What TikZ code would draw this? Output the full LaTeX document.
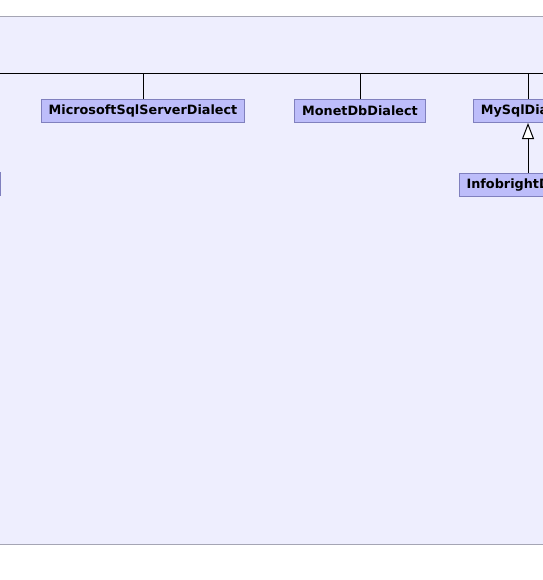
\documentclass[tikz,border=0pt]{standalone}
\usepackage{fontspec}
\newfontfamily\dialectfont{DejaVu Sans}
\usetikzlibrary{positioning,arrows.meta}
\definecolor{panelbg}{RGB}{238,238,254}
\definecolor{panelline}{RGB}{165,165,180}
\definecolor{classfill}{RGB}{189,189,250}
\definecolor{classline}{RGB}{128,128,190}
\begin{document}
\begin{tikzpicture}[
            x=1bp, y=-1bp,
            cls/.style={draw=classline,fill=classfill,line width=1bp,rectangle,minimum height=23bp,
                inner xsep=7.5bp,inner ysep=0bp,font=\dialectfont\bfseries\fontsize{12.8bp}{15bp}\selectfont},
            link/.style={draw=black,line width=1bp},
            inherit/.style={link,-{Triangle[open,length=16bp,width=12bp,fill=white]}}
        ]

        \tikzset{
            node distance=50bp,
        }

        \useasboundingbox (0,0) rectangle (543,580);
        \clip (0,0) rectangle (543,580);

        % panel
        \draw[fill=panelbg,draw=panelline,line width=1bp] (-2,17) rectangle (545,544);

        \coordinate (busL) at (-2,74);
        \coordinate (busR) at (545,74);

        \node[cls,anchor=north] (msql) at (143,99) {MicrosoftSqlServerDialect};
        \node[cls,anchor=north] (monet) at (360,99) {MonetDbDialect};
        \node[cls,anchor=north] (mysql) at (528,99) {MySqlDialect};
        \node[cls,below=50bp of mysql] (info) {InfobrightDialect};
        \node[cls,anchor=north east,minimum width=60bp] (left) at (1,172) {};

        \draw[link] (busL) -- (busR);
        \draw[link]
            (msql.north) -- (msql.north |- busL)
            (monet.north) -- (monet.north |- busL)
            (mysql.north) -- (mysql.north |- busL)
        ;
        \draw[inherit] (info) -- (mysql);

\end{tikzpicture}
\end{document}
